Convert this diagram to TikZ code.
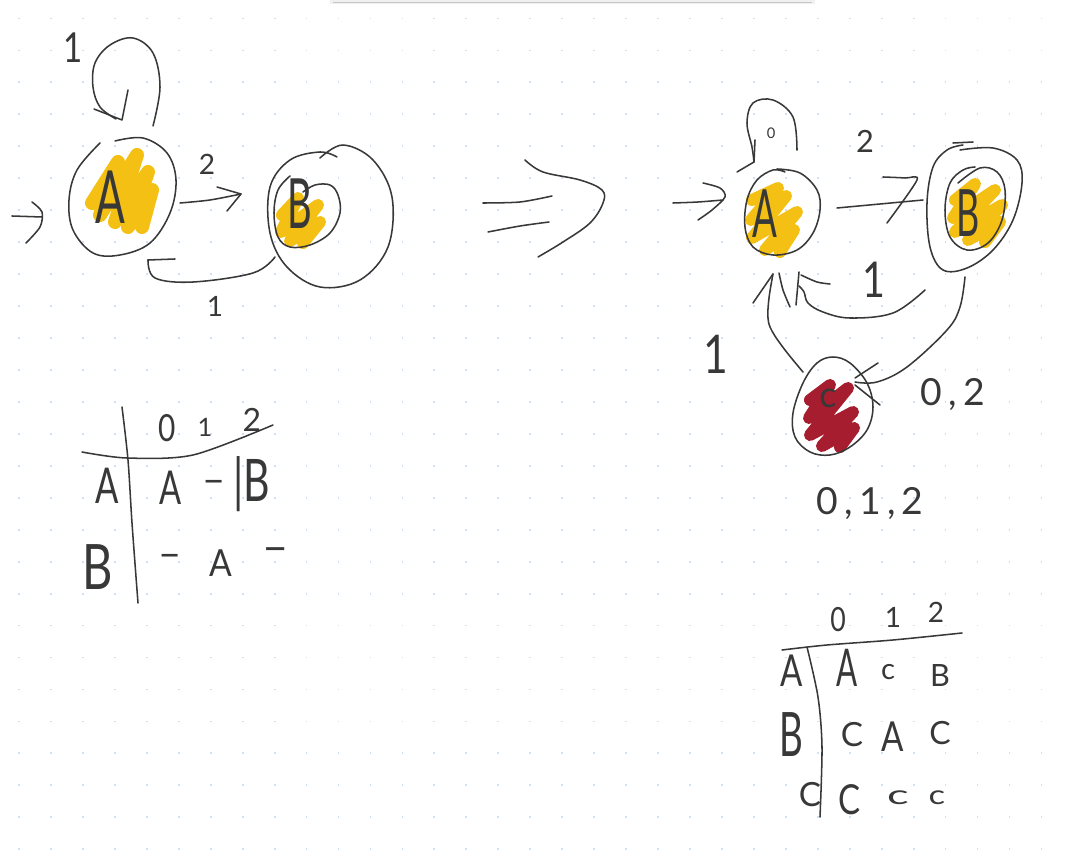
\documentclass[tikz,border=0pt]{standalone}
\usepackage{fontspec}
\usepackage{graphicx}
\setmainfont{Lato}
\definecolor{ink}{HTML}{383838}
\definecolor{marky}{HTML}{F4C013}
\definecolor{markr}{HTML}{A51D2E}
\definecolor{gridc}{HTML}{CFE0F2}
\newcommand\hw[3]{\scalebox{#2}[1]{\fontsize{#1}{#1}\selectfont #3}}
\begin{document}
\begin{tikzpicture}[x=0.75pt,y=-0.75pt,
  pen/.style={draw=ink,line width=1.15pt,line cap=round,line join=round},
  blob/.style={draw=#1,line width=10pt,line cap=round,line join=round},
  lbl/.style={text=ink,inner sep=0pt,outer sep=0pt}]
\useasboundingbox (0,0) rectangle (1065,859);
\fill[white] (0,0) rectangle (1065,859);
% dot grid
\foreach \i in {0,...,32}{\foreach \j in {0,...,26}{
  \fill[gridc] ({19+\i*31.95-0.9},{18.5+\j*31.95-0.9}) rectangle +(1.8,1.8);}}
% toolbar edge
\fill[black!6] (330,0) rectangle (815,4);
\draw[black!22,line width=0.8pt] (333,2.5) -- (812,2.5);

% ---------- state centres ----------
\coordinate (lA) at (122,197);
\coordinate (lB) at (330,220);
\coordinate (rA) at (782,213);
\coordinate (rB) at (975,207);
\coordinate (rC) at (833,405);

% ---------- marker fills ----------
\draw[blob=marky,line width=10.5pt] plot coordinates {(92,203) (118,162) (100,215) (137,155) (115,222) (148,172) (128,227) (152,190) (142,227)};
\draw[blob=marky,line width=9pt] plot coordinates {(282,215) (298,198) (281,232) (318,205) (290,241) (320,222) (303,243)};
\draw[blob=marky,line width=9pt] plot coordinates {(752,200) (778,188) (751,220) (786,196) (752,238) (797,212) (765,250) (794,230) (780,252)};
\draw[blob=marky,line width=9pt] plot coordinates {(955,200) (975,184) (953,218) (995,190) (955,232) (1002,205) (968,240) (1000,222) (985,242)};
\draw[blob=markr,line width=9pt] plot coordinates {(810,400) (830,385) (809,418) (848,388) (810,435) (853,412) (822,446) (854,428) (840,447)};

% ---------- left automaton ----------
% state A outline
\draw[pen] plot[smooth,tension=0.6] coordinates {(115,141) (143,138) (167,153) (176,180) (170,213) (150,243) (120,255) (93,253) (73,230) (69,200) (77,170) (100,143)};
% self loop on A
\coordinate (lLoopS) at (153,126);
\coordinate (lLoopT) at (122,120);
\draw[pen] plot[smooth,tension=0.6] coordinates {(lLoopS) (160,87) (153,53) (133,38) (110,45) (95,63) (93,87) (100,107) (116,119)};
\draw[pen] (128,90) -- (lLoopT) -- (94,109);
% initial arrow
\coordinate (lInit) at (12,216);
\draw[pen] (lInit) -- (42,217);
\draw[pen] plot[smooth] coordinates {(32,202) (42,212) (40,227) (26,243)};
% A -> B
\coordinate (lABs) at (180,203);
\coordinate (lABt) at (241,194);
\draw[pen] plot[smooth] coordinates {(lABs) (210,200) (lABt)};
\draw[pen] (217,187) -- (lABt) -- (227,211);
% state B outer + inner
\draw[pen] plot[smooth,tension=0.6] coordinates {(320,158) (343,145) (373,160) (392,197) (388,247) (360,280) (320,287) (287,267) (270,233) (270,187) (290,160) (320,152) (337,157)};
\draw[pen] plot[smooth,tension=0.6] coordinates {(303,192) (315,185) (330,185) (338,195) (340,213) (330,233) (310,245) (290,247) (278,237) (274,213) (278,190) (290,176)};
% B -> A
\coordinate (lBAs) at (275,257);
\coordinate (lBAt) at (148,260);
\draw[pen] plot[smooth,tension=0.6] coordinates {(lBAs) (253,273) (193,282) (155,278) (lBAt)};
\draw[pen] (lBAt) -- (175,259);

% labels left
\node[lbl] (tLoopL) at (73,48) {\hw{31}{0.8}{1}};
\node[lbl] (tAL) at (110,197) {\hw{55}{0.6}{A}};
\node[lbl] (tTwoL) at (207,164) {\hw{21}{1}{2}};
\node[lbl] (tBL) at (300,204) {\hw{52}{0.55}{B}};
\node[lbl] (tOneL) at (215,306) {\hw{21}{1}{1}};

% ---------- implication arrow ----------
\draw[pen] plot[smooth,tension=0.6] coordinates {(525,160) (543,172) (580,180) (602,190) (603,203) (590,223) (563,242) (538,257)};
\draw[pen] plot[smooth] coordinates {(483,203) (520,202) (552,196)};
\draw[pen] plot[smooth] coordinates {(488,232) (520,226) (549,222)};

% ---------- left table ----------
\draw[pen] plot[smooth] coordinates {(122,407) (128,460) (132,523) (138,603)};
\draw[pen] plot[smooth] coordinates {(82,452) (127,458) (193,455) (273,425)};
\node[lbl] (h0L) at (167,428) {\hw{28}{0.8}{0}};
\node[lbl] (h1L) at (205,427) {\hw{19}{1}{1}};
\node[lbl] (h2L) at (252,420) {\hw{24}{1}{2}};
\node[lbl] (rAL) at (107,486) {\hw{37}{0.7}{A}};
\node[lbl] (cA0L) at (171,488) {\hw{35}{0.7}{A}};
\node[lbl] (cA1L) at (214,487) {\hw{30}{1}{–}};
\node[lbl] (cA2L) at (252,484) {\hw{44}{0.7}{|B}};
\node[lbl] (rBL) at (98,567) {\hw{47}{0.75}{B}};
\node[lbl] (cB0L) at (170,561) {\hw{30}{1}{–}};
\node[lbl] (cB1L) at (221,563) {\hw{28}{0.9}{A}};
\node[lbl] (cB2L) at (276,555) {\hw{34}{1}{–}};

% ---------- right automaton ----------
% state A
\draw[pen] plot[smooth,tension=0.6] coordinates {(777,169) (800,173) (817,190) (820,210) (813,233) (797,250) (773,255) (753,247) (745,227) (747,200) (757,180) (773,170) (785,172)};
% loop on A
\coordinate (rLoopS) at (797,150);
\coordinate (rLoopT) at (754,162);
\draw[pen] plot[smooth,tension=0.6] coordinates {(rLoopS) (793,117) (773,100) (753,103) (747,123) (752,147) (rLoopT)};
\draw[pen] (737,172) -- (rLoopT) -- (755,140);
% initial arrow
\coordinate (rInit) at (673,203);
\draw[pen] plot[smooth] coordinates {(rInit) (698,202) (723,200)};
\draw[pen] plot[smooth] coordinates {(703,183) (720,188) (725,197) (712,210) (698,220)};
% A -> B
\coordinate (rABs) at (837,208);
\coordinate (rABt) at (917,180);
\draw[pen] plot[smooth] coordinates {(rABs) (880,204) (923,200)};
\draw[pen] plot[smooth] coordinates {(883,177) (905,178) (rABt) (887,223)};
% state B
\draw[pen] plot[smooth,tension=0.6] coordinates {(960,150) (993,148) (1017,160) (1022,183) (1013,220) (993,250) (967,268) (943,270) (930,247) (927,203) (933,167) (947,150) (963,145)};
\draw[pen] (953,143) -- (973,142);
\draw[pen] plot[smooth,tension=0.6] coordinates {(958,183) (980,168) (997,172) (1005,190) (1002,220) (988,243) (967,250) (950,237) (945,210) (950,183) (963,170) (975,167)};
% B -> A  (label 1)
\coordinate (rBAs) at (925,290);
\coordinate (rBAt) at (799,272);
\draw[pen] plot[smooth,tension=0.6] coordinates {(rBAs) (893,313) (850,318) (823,312) (808,303) (804,292) (799,286)};
\draw[pen] (rBAt) -- (796,305);
\draw[pen] plot[smooth] coordinates {(801,275) (817,282) (830,284)};
% C -> A  (label 1)
\coordinate (rCAs) at (803,372);
\coordinate (rCAt) at (773,274);
\draw[pen] plot[smooth,tension=0.6] coordinates {(rCAs) (785,350) (772,331) (768,318) (769,298) (rCAt)};
\draw[pen] (753,303) -- (rCAt);
\draw[pen] plot[smooth] coordinates {(779,273) (783,290) (790,307)};
% B -> C  (label 0,2)
\coordinate (rBCs) at (965,277);
\coordinate (rBCt) at (855,382);
\draw[pen] plot[smooth,tension=0.6] coordinates {(rBCs) (960,307) (947,330) (907,367) (877,382) (rBCt)};
\draw[pen] (878,363) -- (855,378);
\draw[pen] (855,385) -- (880,405);
% state C
\draw[pen] plot[smooth cycle,tension=0.6] coordinates {(833,357) (850,363) (867,383) (873,407) (867,430) (850,447) (830,455) (810,452) (795,437) (793,413) (803,383) (817,363)};

% labels right
\node[lbl] (tZeroR) at (771,133) {\hw{11}{1}{0}};
\node[lbl] (tTwoR) at (865,141) {\hw{23}{1}{2}};
\node[lbl] (tAR) at (765,214) {\hw{50}{0.55}{A}};
\node[lbl] (tBR) at (968,213) {\hw{49}{0.55}{B}};
\node[lbl] (tOneMid) at (874,280) {\hw{37}{0.8}{1}};
\node[lbl] (tCR) at (828,398) {\hw{27}{1}{c}};
\node[lbl] (tOneLeft) at (716,354) {\hw{40}{0.8}{1}};
\node[lbl] (tZeroTwo) at (953,395) {\hw{28}{1}{0\,,\,2}};
\node[lbl] (tZOT) at (870,504) {\hw{28}{1}{0\,,\,1\,,\,2}};

% ---------- right table ----------
\draw[pen] plot[smooth] coordinates {(782,650) (827,645) (893,640) (962,633)};
\draw[pen] plot[smooth] coordinates {(807,647) (818,697) (822,747) (820,817)};
\node[lbl] (h0R) at (838,620) {\hw{25}{0.8}{0}};
\node[lbl] (h1R) at (893,617) {\hw{21}{1}{1}};
\node[lbl] (h2R) at (936,612) {\hw{21}{1}{2}};
\node[lbl] (rAR) at (792,671) {\hw{33}{0.75}{A}};
\node[lbl] (cA0R) at (847,668) {\hw{39}{0.6}{A}};
\node[lbl] (cA1R) at (888,672) {\hw{22}{1}{c}};
\node[lbl] (cA2R) at (940,676) {\hw{23}{1}{B}};
\node[lbl] (rBR) at (791,735) {\hw{46}{0.6}{B}};
\node[lbl] (cB0R) at (852,735) {\hw{25}{1}{C}};
\node[lbl] (cB1R) at (893,737) {\hw{31}{0.8}{A}};
\node[lbl] (cB2R) at (940,733) {\hw{24}{1}{C}};
\node[lbl] (rCR) at (810,795) {\hw{25}{1}{C}};
\node[lbl] (cC0R) at (850,800) {\hw{31}{0.8}{C}};
\node[lbl] (cC1R) at (898,798) {\hw{20}{1.7}{c}};
\node[lbl] (cC2R) at (937,798) {\hw{20}{1.3}{c}};
\end{tikzpicture}
\end{document}
